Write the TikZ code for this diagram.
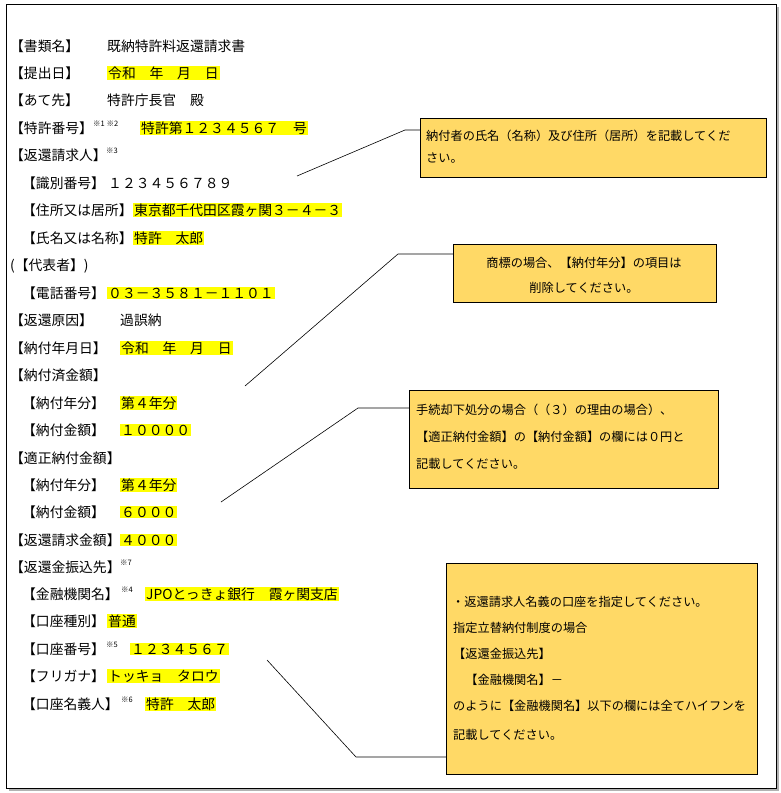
\documentclass[tikz,border=0pt]{standalone}
\usepackage{fontspec}
\newfontfamily\jp{Noto Sans CJK JP}
\definecolor{hl}{HTML}{FFFF00}
\definecolor{box}{HTML}{FFD966}
\begin{document}
\begin{tikzpicture}[x=1pt,y=-1pt,
  lab/.style={anchor=west,inner sep=0pt,font=\jp\fontsize{13.8}{15}\selectfont},
  val/.style={lab},
  hv/.style={anchor=west,inner sep=1pt,fill=hl,font=\jp\fontsize{13.8}{15}\selectfont},
  sup/.style={anchor=west,inner sep=0pt,font=\jp\fontsize{7.5}{8}\selectfont},
  cbox/.style={draw=black,fill=box,anchor=north west,inner sep=0pt},
  ctext/.style={anchor=west,inner sep=0pt,font=\jp\fontsize{12.2}{13}\selectfont},
  lead/.style={draw=black,line width=0.6pt}]
\useasboundingbox (0,0) rectangle (781,793);
\fill[white] (0,0) rectangle (781,793);
\fill[gray!60] (9,7) rectangle (779,791);
\draw[fill=white,line width=0.8pt] (6,4) rectangle (776,788);
% rows
\node[lab] (l1) at (10,46) {【書類名】};\node[val] (v1) at (107,46) {既納特許料返還請求書};
\node[lab] (l2) at (10,73) {【提出日】};\node[hv] (v2) at (107,73) {令和　年　月　日};
\node[lab] (l3) at (10,100) {【あて先】};\node[val] (v3) at (107,100) {特許庁長官　殿};
\node[lab] (l4) at (10,128) {【特許番号】};\node[sup] (s4) at (93,124) {※1 ※2};\node[hv] (v4) at (140,128) {特許第１２３４５６７　号};
\node[lab] (l5) at (10,155) {【返還請求人】};\node[sup] (s5) at (106,151) {※3};
\node[lab] (l6) at (22,183) {【識別番号】};\node[val] (v6) at (108,183) {１２３４５６７８９};
\node[lab] (l7) at (22,210) {【住所又は居所】};\node[hv] (v7) at (133,210) {東京都千代田区霞ヶ関３－４－３};
\node[lab] (l8) at (22,238) {【氏名又は名称】};\node[hv] (v8) at (133,238) {特許　太郎};
\node[lab] (l9) at (10,266) {(【代表者】)};
\node[lab] (l10) at (22,293) {【電話番号】};\node[hv] (v10) at (107,293) {０３－３５８１－１１０１};
\node[lab] (l11) at (10,320) {【返還原因】};\node[val] (v11) at (120,320) {過誤納};
\node[lab] (l12) at (10,348) {【納付年月日】};\node[hv] (v12) at (120,348) {令和　年　月　日};
\node[lab] (l13) at (10,375) {【納付済金額】};
\node[lab] (l14) at (22,403) {【納付年分】};\node[hv] (v14) at (120,403) {第４年分};
\node[lab] (l15) at (22,430) {【納付金額】};\node[hv] (v15) at (120,430) {１００００};
\node[lab] (l16) at (10,458) {【適正納付金額】};
\node[lab] (l17) at (22,485) {【納付年分】};\node[hv] (v17) at (120,485) {第４年分};
\node[lab] (l18) at (22,512) {【納付金額】};\node[hv] (v18) at (120,512) {６０００};
\node[lab] (l19) at (10,540) {【返還請求金額】};\node[hv] (v19) at (120,540) {４０００};
\node[lab] (l20) at (10,567) {【返還金振込先】};\node[sup] (s20) at (120,563) {※7};
\node[lab] (l21) at (22,594) {【金融機関名】};\node[sup] (s21) at (121,590) {※4};\node[hv] (v21) at (145,594) {JPOとっきょ銀行　霞ヶ関支店};
\node[lab] (l22) at (22,621) {【口座種別】};\node[hv] (v22) at (107,621) {普通};
\node[lab] (l23) at (22,649) {【口座番号】};\node[sup] (s23) at (106,645) {※5};\node[hv] (v23) at (130,649) {１２３４５６７};
\node[lab] (l24) at (22,676) {【フリガナ】};\node[hv] (v24) at (107,676) {トッキョ　タロウ};
\node[lab] (l25) at (22,704) {【口座名義人】};\node[sup] (s25) at (121,700) {※6};\node[hv] (v25) at (145,704) {特許　太郎};
% callout 1
\node[cbox,minimum width=346pt,minimum height=59pt] (b1) at (420,118) {};
\node[ctext] (t11) at (426,136) {納付者の氏名（名称）及び住所（居所）を記載してくだ};
\node[ctext] (t12) at (426,158) {さい。};
\coordinate (p1) at (297,176);\coordinate (q1) at (405,130);
\draw[lead] (p1) -- (q1) -- (b1.west |- q1);
% callout 2
\node[cbox,minimum width=263pt,minimum height=58pt] (b2) at (453,244) {};
\node[ctext,anchor=center] (t21) at (584,263) {商標の場合、【納付年分】の項目は};
\node[ctext,anchor=center] (t22) at (584,288) {削除してください。};
\coordinate (p2) at (245,386);\coordinate (q2) at (398,254);
\draw[lead] (p2) -- (q2) -- (b2.west |- q2);
% callout 3
\node[cbox,minimum width=309pt,minimum height=98pt] (b3) at (409,390) {};
\node[ctext] (t31) at (416,410) {手続却下処分の場合（（３）の理由の場合）、};
\node[ctext] (t32) at (416,437) {【適正納付金額】の【納付金額】の欄には０円と};
\node[ctext] (t33) at (416,464) {記載してください。};
\coordinate (p3) at (221,502);\coordinate (q3) at (358,408);
\draw[lead] (p3) -- (q3) -- (b3.west |- q3);
% callout 4
\node[cbox,minimum width=311pt,minimum height=211pt] (b4) at (446,563) {};
\node[ctext] (t41) at (452,602) {・返還請求人名義の口座を指定してください。};
\node[ctext] (t42) at (453,628) {指定立替納付制度の場合};
\node[ctext] (t43) at (453,654) {【返還金振込先】};
\node[ctext] (t44) at (453,680) {　【金融機関名】－};
\node[ctext] (t45) at (453,706) {のように【金融機関名】以下の欄には全てハイフンを};
\node[ctext] (t46) at (453,735) {記載してください。};
\coordinate (p4) at (267,660);\coordinate (q4) at (356,757);
\draw[lead] (p4) -- (q4) -- (b4.west |- q4);
\end{tikzpicture}
\end{document}
